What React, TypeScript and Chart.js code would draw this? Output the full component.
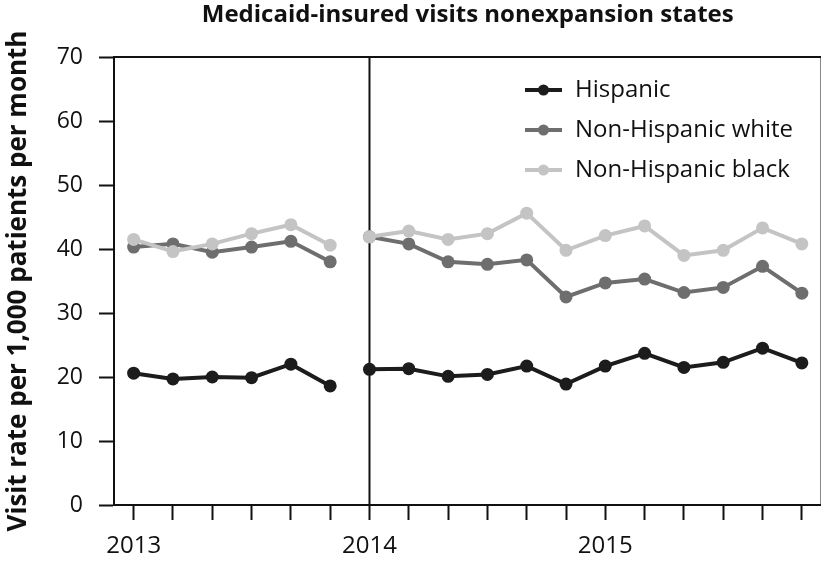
import React, { useEffect, useRef } from "react";
import { Chart, registerables } from "chart.js";
Chart.register(...registerables);

const periods = ["2013", "", "", "", "", "", "2014", "", "", "", "", "", "2015", "", "", "", "", ""];
const hispanic = [20.6, 19.7, 20.0, 19.9, 22.0, 18.6, 21.2, 21.3, 20.1, 20.4, 21.7, 18.9, 21.7, 23.7, 21.5, 22.3, 24.5, 22.2];
const nhWhite = [40.3, 40.8, 39.5, 40.3, 41.2, 38.0, 41.9, 40.8, 38.0, 37.6, 38.3, 32.5, 34.7, 35.3, 33.2, 34.0, 37.3, 33.1];
const nhBlack = [41.5, 39.6, 40.8, 42.4, 43.8, 40.6, 41.9, 42.8, 41.5, 42.4, 45.6, 39.8, 42.1, 43.6, 39.0, 39.8, 43.3, 40.8];
const seriesNames = ["Hispanic", "Non-Hispanic white", "Non-Hispanic black"];
const seriesColors = ["#1c1c1c", "#6e6e6e", "#c4c4c4"];
const breakAfterIndex = 5;
const dividerIndex = 6;
const titleText = "Medicaid-insured visits nonexpansion states";
const yTitleText = "Visit rate per 1,000 patients per month";

const FONT = "'Open Sans', 'Noto Sans', sans-serif";

const framePlugin = {
  id: "frameAndText",
  beforeDatasetsDraw(chart: any) {
    const { ctx, chartArea, scales } = chart;
    const x = scales.x.getPixelForValue(dividerIndex);
    ctx.save();
    ctx.strokeStyle = "#111";
    ctx.lineWidth = 2;
    ctx.beginPath();
    ctx.moveTo(x, chartArea.top);
    ctx.lineTo(x, chartArea.bottom);
    ctx.stroke();
    ctx.restore();
  },
  afterDraw(chart: any) {
    const { ctx, chartArea } = chart;
    ctx.save();
    ctx.strokeStyle = "#111";
    ctx.lineWidth = 2;
    ctx.strokeRect(chartArea.left, chartArea.top, chartArea.right - chartArea.left, chartArea.bottom - chartArea.top);

    // title
    ctx.fillStyle = "#111";
    ctx.font = `bold 24px ${FONT}`;
    ctx.textAlign = "center";
    ctx.textBaseline = "middle";
    ctx.fillText(titleText, (chartArea.left + chartArea.right) / 2, 15);

    // y title
    ctx.save();
    ctx.translate(19, (chartArea.top + chartArea.bottom) / 2);
    ctx.rotate(-Math.PI / 2);
    ctx.font = `bold 26px ${FONT}`;
    ctx.fillText(yTitleText, 0, 0);
    ctx.restore();

    // legend
    const lx0 = 525, lx1 = 562, tx = 575;
    const rows = [90, 130, 170];
    seriesNames.forEach((name, i) => {
      const y = rows[i];
      ctx.strokeStyle = seriesColors[i];
      ctx.lineWidth = 4;
      ctx.beginPath();
      ctx.moveTo(lx0, y);
      ctx.lineTo(lx1, y);
      ctx.stroke();
      ctx.fillStyle = seriesColors[i];
      ctx.beginPath();
      ctx.arc((lx0 + lx1) / 2, y, 5.5, 0, Math.PI * 2);
      ctx.fill();
      ctx.fillStyle = "#111";
      ctx.font = `24px ${FONT}`;
      ctx.textAlign = "left";
      ctx.textBaseline = "middle";
      ctx.fillText(name, tx, y);
    });
    ctx.restore();
  },
};

export default function App() {
  const ref = useRef<HTMLCanvasElement>(null);
  useEffect(() => {
    document.body.style.margin = "0";
    const series = [hispanic, nhWhite, nhBlack];
    const chart = new Chart(ref.current as HTMLCanvasElement, {
      type: "line",
      data: {
        labels: periods,
        datasets: series.map((d, i) => ({
          label: seriesNames[i],
          data: d,
          borderColor: seriesColors[i],
          backgroundColor: seriesColors[i],
          borderWidth: 4,
          pointRadius: 6.5,
          pointBorderWidth: 0,
          pointBackgroundColor: seriesColors[i],
          tension: 0,
          segment: {
            borderColor: (c: any) => (c.p0DataIndex === breakAfterIndex ? "rgba(0,0,0,0)" : seriesColors[i]),
          },
        })).reverse(),
      },
      options: {
        animation: false,
        responsive: false,
        maintainAspectRatio: false,
        layout: { padding: { top: 57, right: 0, left: 0, bottom: 0 } },
        plugins: { legend: { display: false }, title: { display: false }, tooltip: { enabled: false } },
        scales: {
          x: {
            type: "category",
            offset: true,
            afterFit: (s: any) => { s.height = 57; },
            grid: { display: true, drawOnChartArea: false, offset: false, tickLength: 15, tickWidth: 2, tickColor: "#111" },
            border: { display: true, color: "#111", width: 2 },
            ticks: {
              autoSkip: false,
              maxRotation: 0,
              padding: 12,
              color: "#111",
              font: { family: FONT, size: 24 },
            },
          },
          y: {
            min: 0,
            max: 70,
            afterFit: (s: any) => { s.width = 114; },
            grid: { display: true, drawOnChartArea: false, tickLength: 15, tickWidth: 2, tickColor: "#111" },
            border: { display: true, color: "#111", width: 2 },
            ticks: {
              stepSize: 10,
              padding: 16,
              color: "#111",
              font: { family: FONT, size: 23 },
            },
          },
        },
      },
      plugins: [framePlugin],
    } as any);
    return () => chart.destroy();
  }, []);
  return (
    <div style={{ position: "absolute", left: 0, top: 0, width: 821, height: 562, overflow: "hidden" }}>
      <canvas ref={ref} width={828} height={562} style={{ width: 828, height: 562 }} />
    </div>
  );
}
